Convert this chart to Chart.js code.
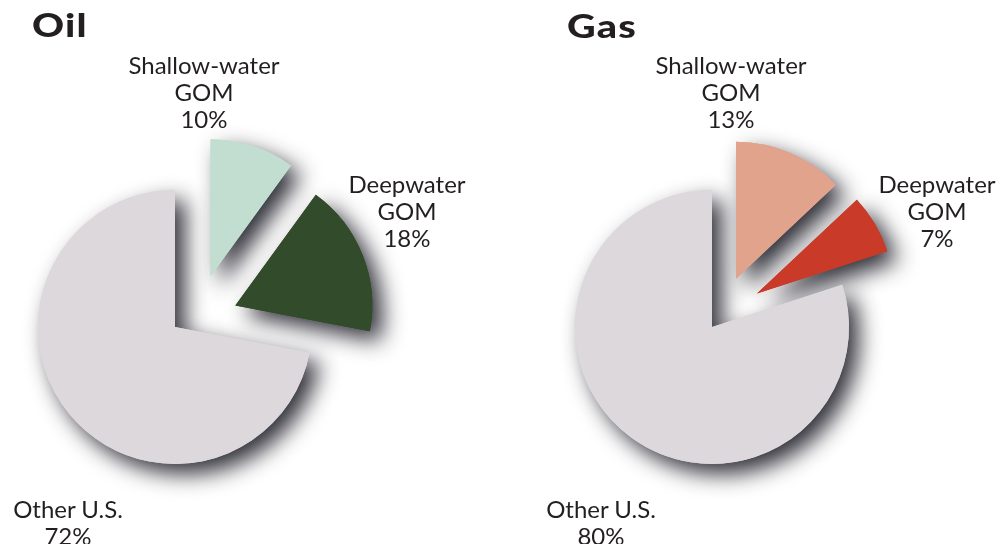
<!DOCTYPE html>
<html>
<head>
<meta charset="utf-8">
<script src="https://cdn.jsdelivr.net/npm/chart.js@4.4.1/dist/chart.umd.min.js"></script>
<style>
  html, body { margin: 0; padding: 0; background: #fff; }
  body { width: 1002px; height: 544px; position: relative; overflow: hidden; font-family: Lato, 'Open Sans', sans-serif; color: #231f20; }
  canvas { position: absolute; top: 0; }
  .title { position: absolute; font-weight: 900; font-size: 33px; line-height: 33px; letter-spacing: 1px; transform: scaleX(1.2); transform-origin: left top; }
  .lbl { position: absolute; width: 220px; text-align: center; font-size: 24px; line-height: 27px; white-space: pre; }
</style>
</head>
<body>
<canvas id="oilChart" width="500" height="544" style="left:0"></canvas>
<canvas id="gasChart" width="502" height="544" style="left:500px"></canvas>
<script>
'use strict';

// ---- data ----
const sliceNames = ['Shallow-water\nGOM', 'Deepwater\nGOM', 'Other U.S.'];
const oilShares  = [10, 18, 72];
const gasShares  = [13, 7, 80];

// ---- styles ----
const oilColors = ['#c2ded1', '#324b2b', '#ddd8dc'];
const gasColors = ['#e2a38d', '#c93a28', '#ddd8dc'];
const oilExplode = [62, 64, 0];   // px pulled out from centre
const gasExplode = [54, 56, 0];
const oilTilt = [17, 2, 0];       // degrees added to slice mid-angle
const gasTilt = [3, -6, 0];

// label anchor = centre x, top of first line
const oilLabelPos = [[204, 51], [407, 170], [68, 495]];
const gasLabelPos = [[731, 51], [937, 170], [601, 495]];

// draws the slices pulled apart, shadows first, then clean fills on top
function explodePlugin(dist, tilt) {
  return {
    id: 'explode',
    beforeDatasetDraw(chart, args) {
      const ctx = chart.ctx;
      const arcs = args.meta.data;
      const paint = withShadow => {
        arcs.forEach((arc, i) => {
          const mid = (arc.startAngle + arc.endAngle) / 2 + (tilt[i] || 0) * Math.PI / 180;
          ctx.save();
          ctx.translate(Math.cos(mid) * dist[i], Math.sin(mid) * dist[i]);
          if (withShadow) {
            ctx.shadowColor = 'rgba(25,25,35,0.9)';
            ctx.shadowBlur = 22;
            ctx.shadowOffsetX = 10;
            ctx.shadowOffsetY = 10;
          }
          arc.draw(ctx);
          ctx.restore();
        });
      };
      paint(true);
      paint(false);
      return false;
    }
  };
}

function makePie(id, shares, colors, dist, tilt, padding) {
  return new Chart(document.getElementById(id), {
    type: 'pie',
    data: {
      labels: sliceNames.map(s => s.replace('\n', ' ')),
      datasets: [{ data: shares, backgroundColor: colors, borderWidth: 0, radius: 137 }]
    },
    options: {
      responsive: false,
      animation: false,
      layout: { padding },
      plugins: { legend: { display: false }, tooltip: { enabled: false } }
    },
    plugins: [explodePlugin(dist, tilt)]
  });
}

makePie('oilChart', oilShares, oilColors, oilExplode, oilTilt, { left: 0, right: 150, top: 110, bottom: 0 });
makePie('gasChart', gasShares, gasColors, gasExplode, gasTilt, { left: 0, right: 78, top: 110, bottom: 0 });

function addText(cls, text, x, y, centred) {
  const d = document.createElement('div');
  d.className = cls;
  d.textContent = text;
  d.style.left = (centred ? x - 110 : x) + 'px';
  d.style.top = y + 'px';
  document.body.appendChild(d);
}

addText('title', 'Oil', 32, 8, false);
addText('title', 'Gas', 567, 9, false);
sliceNames.forEach((name, i) => {
  addText('lbl', name + '\n' + oilShares[i] + '%', oilLabelPos[i][0], oilLabelPos[i][1], true);
  addText('lbl', name + '\n' + gasShares[i] + '%', gasLabelPos[i][0], gasLabelPos[i][1], true);
});
</script>
</body>
</html>
